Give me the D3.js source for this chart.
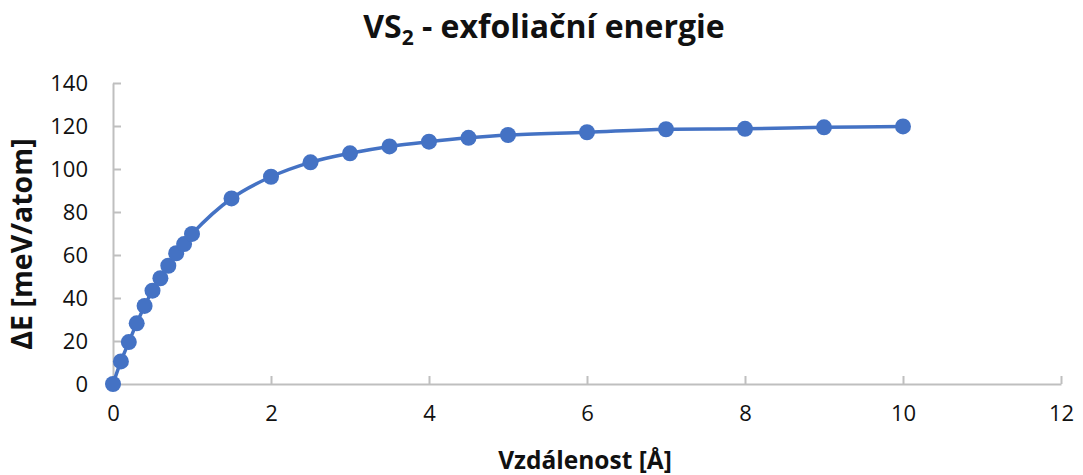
<!DOCTYPE html>
<html>
<head>
<meta charset="utf-8">
<script src="https://cdn.jsdelivr.net/npm/d3@7"></script>
<style>
  html, body { margin: 0; padding: 0; background: #fff; }
  svg { display: block; font-family: "Open Sans", "Noto Sans", sans-serif; }
</style>
</head>
<body>
<svg id="chart" width="1083" height="475"></svg>
<script>
// Interlayer distance [Å] and exfoliation energy [meV/atom]
const distance = [0, 0.1, 0.2, 0.3, 0.4, 0.5, 0.6, 0.7, 0.8, 0.9, 1.0,
                  1.5, 2, 2.5, 3, 3.5, 4, 4.5, 5, 6, 7, 8, 9, 10];
const energy = [0, 10.5, 19.5, 28.2, 36.3, 43.4, 49.2, 55.0, 60.8, 65.1, 69.8,
                86.3, 96.4, 103.1, 107.3, 110.5, 112.7, 114.5, 115.8, 117.1, 118.5, 118.7, 119.4, 119.8];
const xTicks = [0, 2, 4, 6, 8, 10, 12];
const yTicks = [0, 20, 40, 60, 80, 100, 120, 140];

const svg = d3.select("#chart");
const margin = { left: 113, right: 22, top: 83, bottom: 91 };
const W = 1083, H = 475;

const x = d3.scaleLinear().domain([0, 12]).range([margin.left, W - margin.right]);
const y = d3.scaleLinear().domain([0, 140]).range([H - margin.bottom, margin.top]);

const axisColor = "#bfbfbf";
const textColor = "#111";

// X axis (ticks pointing up into the plot)
const xAxis = svg.append("g")
  .attr("transform", `translate(0,${y(0)})`)
  .call(d3.axisBottom(x).tickValues(xTicks).tickSizeInner(-8).tickSizeOuter(0).tickPadding(21));
xAxis.select(".domain").attr("stroke", axisColor).attr("stroke-width", 2);
xAxis.selectAll(".tick line").attr("stroke", axisColor).attr("stroke-width", 2);
xAxis.selectAll(".tick text").attr("fill", textColor).attr("font-size", 22)
  .attr("font-family", "'Open Sans', sans-serif");

// Y axis (ticks pointing right into the plot)
const yAxis = svg.append("g")
  .attr("transform", `translate(${x(0)},0)`)
  .call(d3.axisLeft(y).tickValues(yTicks).tickSizeInner(-8).tickSizeOuter(0).tickPadding(25));
yAxis.select(".domain").attr("stroke", axisColor).attr("stroke-width", 2);
yAxis.selectAll(".tick line").attr("stroke", axisColor).attr("stroke-width", 2);
yAxis.selectAll(".tick text").attr("fill", textColor).attr("font-size", 22)
  .attr("font-family", "'Open Sans', sans-serif");

// Smoothed series line
const pts = distance.map((d, i) => [d, energy[i]]);
const line = d3.line()
  .x(d => x(d[0]))
  .y(d => y(d[1]))
  .curve(d3.curveCatmullRom.alpha(0.5));

const blue = "#4472c4";
svg.append("path")
  .datum(pts)
  .attr("d", line)
  .attr("fill", "none")
  .attr("stroke", blue)
  .attr("stroke-width", 3.5);

svg.append("g").selectAll("circle")
  .data(pts)
  .join("circle")
  .attr("cx", d => x(d[0]))
  .attr("cy", d => y(d[1]))
  .attr("r", 8)
  .attr("fill", blue);

// Title
const title = svg.append("text")
  .attr("x", 544)
  .attr("y", 38)
  .attr("text-anchor", "middle")
  .attr("font-size", 32)
  .attr("font-weight", "bold")
  .attr("fill", textColor);
title.append("tspan").text("VS");
title.append("tspan").attr("font-size", 21).attr("dy", 7).text("2");
title.append("tspan").attr("dy", -7).text(" - exfoliační energie");

// Axis titles
svg.append("text")
  .attr("x", 585)
  .attr("y", 469)
  .attr("text-anchor", "middle")
  .attr("font-size", 24.5)
  .attr("font-weight", "bold")
  .attr("fill", textColor)
  .text("Vzdálenost [Å]");

svg.append("text")
  .attr("transform", "translate(32,244) rotate(-90)")
  .attr("text-anchor", "middle")
  .attr("font-size", 28.5)
  .attr("font-weight", "bold")
  .attr("fill", textColor)
  .text("ΔE [meV/atom]");
</script>
</body>
</html>
